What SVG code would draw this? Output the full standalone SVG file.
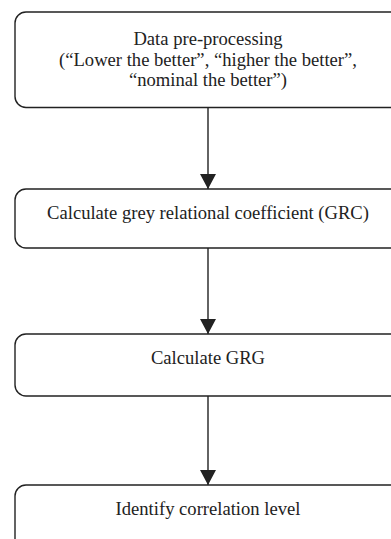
<svg xmlns="http://www.w3.org/2000/svg" width="391" height="539" viewBox="0 0 391 539">
<defs>
<style>
.box{fill:#fff;stroke:#222;stroke-width:1.4}
.t{font-family:"Liberation Serif","Times New Roman",serif;font-size:18.6px;fill:#222;text-anchor:middle}
.c{stroke:#222;stroke-width:1.4;fill:none}
</style>
<marker id="ah" markerUnits="userSpaceOnUse" markerWidth="17" markerHeight="17" viewBox="0 0 17 17" refX="15" refY="8.5" orient="auto">
<path d="M0,0.5 L15,8.5 L0,16.5 Z" fill="#222"/>
</marker>
</defs>
<rect width="391" height="539" fill="#fff"/>
<g id="n1">
<rect class="box" x="15" y="12" width="390" height="95.5" rx="11"/>
<text class="t" x="208" y="45">Data pre-processing</text>
<text class="t" x="208" y="65.5">(“Lower the better”, “higher the better”,</text>
<text class="t" x="208" y="86">“nominal the better”)</text>
</g>
<g id="n2">
<rect class="box" x="15" y="189" width="390" height="59" rx="11"/>
<text class="t" x="208" y="219">Calculate grey relational coefficient (GRC)</text>
</g>
<g id="n3">
<rect class="box" x="15" y="334" width="390" height="62" rx="11"/>
<text class="t" x="208" y="364">Calculate GRG</text>
</g>
<g id="n4">
<rect class="box" x="15" y="485" width="390" height="80" rx="11"/>
<text class="t" x="208" y="515">Identify correlation level</text>
</g>
<g id="connectors">
<line class="c" x1="208" y1="107.5" x2="208" y2="189" marker-end="url(#ah)"/>
<line class="c" x1="208" y1="248" x2="208" y2="334" marker-end="url(#ah)"/>
<line class="c" x1="208" y1="396" x2="208" y2="485" marker-end="url(#ah)"/>
</g>
</svg>
